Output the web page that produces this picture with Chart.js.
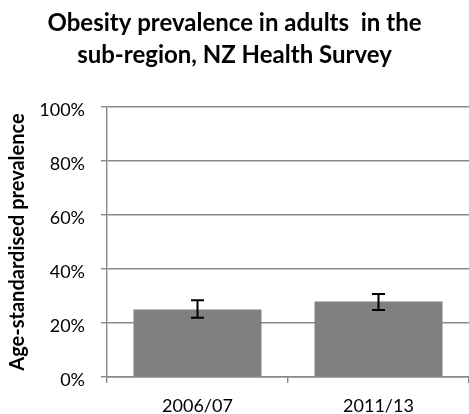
<!DOCTYPE html>
<html lang="en">
<head>
<meta charset="UTF-8">
<title>Obesity prevalence in adults</title>
<script src="https://cdn.jsdelivr.net/npm/chart.js"></script>
<style>
  html, body { margin: 0; padding: 0; background: #fff; }
  #wrap { width: 469px; height: 414px; }
</style>
</head>
<body>
<div id="wrap"><canvas id="grafico" width="469" height="414"></canvas></div>
<script>
// data
var periodos = ['2006/07', '2011/13'];
var prevalencia = [25.0, 28.0];
var limiteInferior = [21.9, 24.8];
var limiteSuperior = [28.4, 30.7];
var marcasY = [0, 20, 40, 60, 80, 100];

var fonte = 'Lato, "Open Sans", sans-serif';
var cinza = '#888888';

// draws the I-shaped error bars from the two limit arrays
var barrasErro = {
  id: 'barrasErro',
  afterDatasetsDraw: function (chart) {
    var ctx = chart.ctx;
    var x = chart.scales.x, y = chart.scales.y;
    ctx.save();
    ctx.strokeStyle = '#000';
    ctx.lineWidth = 2;
    for (var i = 0; i < periodos.length; i++) {
      var px = x.getPixelForValue(i);
      var topo = y.getPixelForValue(limiteSuperior[i]);
      var base = y.getPixelForValue(limiteInferior[i]);
      ctx.beginPath();
      ctx.moveTo(px, topo); ctx.lineTo(px, base);
      ctx.moveTo(px - 6.5, topo); ctx.lineTo(px + 6.5, topo);
      ctx.moveTo(px - 6.5, base); ctx.lineTo(px + 6.5, base);
      ctx.stroke();
    }
    ctx.restore();
  }
};

new Chart(document.getElementById('grafico').getContext('2d'), {
  type: 'bar',
  data: {
    labels: periodos,
    datasets: [{
      label: 'Prevalência',
      data: prevalencia,
      backgroundColor: '#808080',
      borderWidth: 0,
      barPercentage: 0.707,
      categoryPercentage: 1
    }]
  },
  options: {
    responsive: false,
    animation: false,
    layout: { padding: 0 },
    plugins: {
      legend: { display: false },
      tooltip: { enabled: false },
      title: {
        display: true,
        text: ['Obesity prevalence in adults  in the', 'sub-region, NZ Health Survey'],
        color: '#000',
        font: { family: fonte, size: 24, weight: 'bold', lineHeight: 1.333 },
        padding: { top: 7, bottom: 36 }
      }
    },
    scales: {
      x: {
        grid: { offset: true, drawOnChartArea: false, color: cinza, lineWidth: 1.4, tickLength: 6 },
        border: { color: cinza, width: 1.4 },
        ticks: { color: '#000', font: { family: fonte, size: 18 }, padding: 12, maxRotation: 0 },
        afterFit: function (s) { s.height = 37; }
      },
      y: {
        min: 0,
        max: 100,
        afterBuildTicks: function (s) { s.ticks = marcasY.map(function (v) { return { value: v }; }); },
        grid: { color: cinza, lineWidth: 1.4, tickLength: 6 },
        border: { color: cinza, width: 1.4 },
        ticks: {
          color: '#000',
          font: { family: fonte, size: 18 },
          padding: 16,
          labelOffset: 3,
          callback: function (v) { return v + '%'; }
        },
        title: {
          display: true,
          text: 'Age-standardised prevalence',
          color: '#000',
          font: { family: fonte, size: 20, weight: 'bold' },
          padding: { top: 6, bottom: 0 }
        },
        afterFit: function (s) { s.width = 107; }
      }
    }
  },
  plugins: [barrasErro]
});
</script>
</body>
</html>
